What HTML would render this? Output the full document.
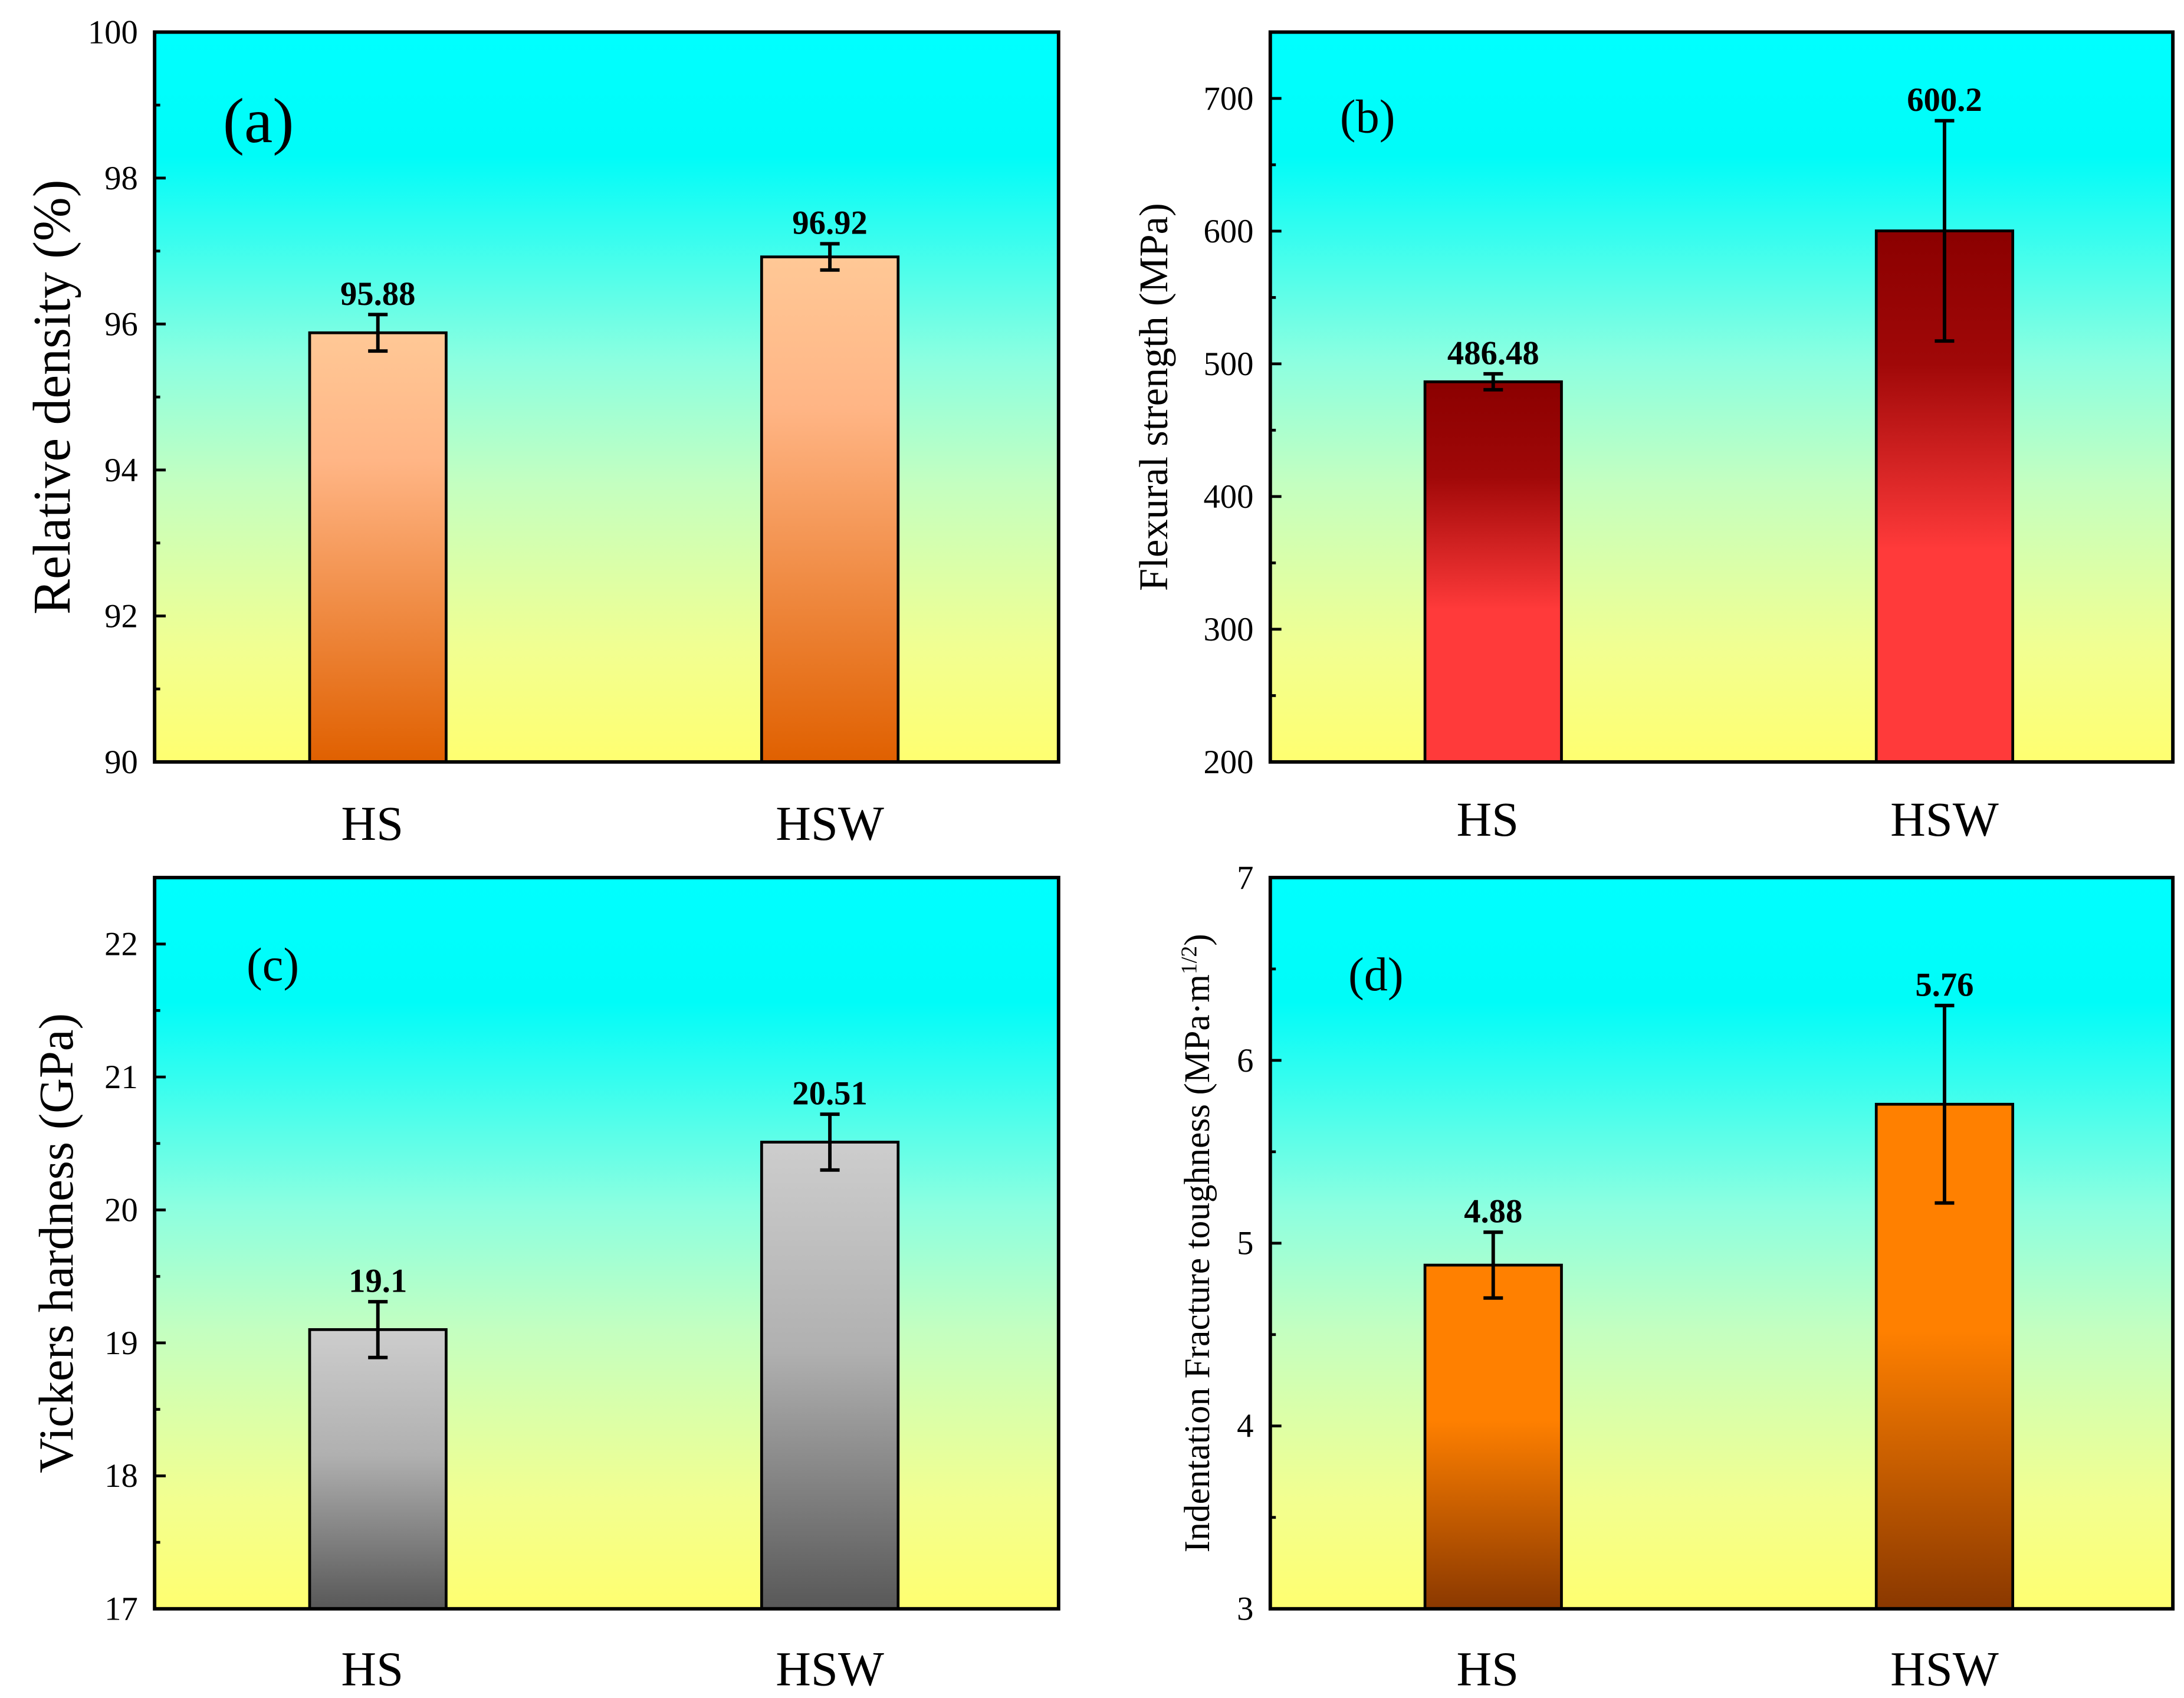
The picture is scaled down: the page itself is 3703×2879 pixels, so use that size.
<!DOCTYPE html>
<html><head><meta charset="utf-8"><style>
html,body{margin:0;padding:0;background:#fff}
svg{display:block}
svg text{font-family:"Liberation Serif","Times New Roman",serif;fill:#000}
</style></head><body>
<svg id="fig" width="3703" height="2879" viewBox="0 0 1568 1219" xmlns="http://www.w3.org/2000/svg" font-family="Liberation Serif, serif">
<defs>
<linearGradient id="bg" x1="0" y1="0" x2="0" y2="1">
<stop offset="0" stop-color="#00ffff"/><stop offset="0.17" stop-color="#00fcf8"/>
<stop offset="0.45" stop-color="#8cffe0"/><stop offset="0.62" stop-color="#c4ffc0"/>
<stop offset="0.85" stop-color="#f2ff90"/><stop offset="1" stop-color="#ffff70"/></linearGradient>
<linearGradient id="ga" x1="0" y1="0" x2="0" y2="1"><stop offset="0" stop-color="#ffc896"/><stop offset="0.3" stop-color="#ffb585"/><stop offset="1" stop-color="#e06000"/></linearGradient>
<linearGradient id="gb" x1="0" y1="0" x2="0" y2="1"><stop offset="0" stop-color="#8b0000"/><stop offset="0.25" stop-color="#a00808"/><stop offset="0.6" stop-color="#ff3a3a"/><stop offset="1" stop-color="#ff3a3a"/></linearGradient>
<linearGradient id="gc" x1="0" y1="0" x2="0" y2="1"><stop offset="0" stop-color="#cdcdcd"/><stop offset="0.45" stop-color="#b0b0b0"/><stop offset="1" stop-color="#585858"/></linearGradient>
<linearGradient id="gd" x1="0" y1="0" x2="0" y2="1"><stop offset="0" stop-color="#ff8000"/><stop offset="0.45" stop-color="#ff8000"/><stop offset="1" stop-color="#8a3800"/></linearGradient>
</defs>
</svg>
<script>
const categories = ["HS","HSW"];
const valuesA = [95.88, 96.92], errA = [0.25, 0.18];
const valuesB = [486.48, 600.2], errB = [6, 83];
const valuesC = [19.1, 20.51], errC = [0.21, 0.21];
const valuesD = [4.88, 5.76], errD = [0.18, 0.54];
const labelsA = ["95.88","96.92"], labelsB = ["486.48","600.2"], labelsC = ["19.1","20.51"], labelsD = ["4.88","5.76"];
const ticksA = [90,92,94,96,98,100], ticksB = [200,300,400,500,600,700], ticksC = [17,18,19,20,21,22], ticksD = [3,4,5,6,7];

const NS = "http://www.w3.org/2000/svg";
const svg = document.getElementById('fig');
function mk(tag, attrs, parent, txt){
  const e = document.createElementNS(NS, tag);
  for (const k in attrs) e.setAttribute(k, attrs[k]);
  if (tag==='text') e.setAttribute('font-family','Liberation Serif, serif');
  if (txt !== undefined) e.textContent = txt;
  (parent||svg).appendChild(e); return e;
}
const panels = [
 {id:'a', x0:111,x1:760,y0:23,y1:547, ymin:90,ymax:100, ticks:ticksA, minor:1, vals:valuesA, errs:errA, labels:labelsA, grad:'ga',
  title:'Relative density (%)', tfs:38, tx:50, letter:'(a)', lx:160, ly:102, lfs:46, catY:603},
 {id:'b', x0:912,x1:1560,y0:23,y1:547, ymin:200,ymax:750, ticks:ticksB, minor:50, vals:valuesB, errs:errB, labels:labelsB, grad:'gb',
  title:'Flexural strength (MPa)', tfs:29, tx:838, letter:'(b)', lx:962, ly:95, lfs:34, catY:600},
 {id:'c', x0:111,x1:760,y0:630,y1:1155, ymin:17,ymax:22.5, ticks:ticksC, minor:0.5, vals:valuesC, errs:errC, labels:labelsC, grad:'gc',
  title:'Vickers hardness (GPa)', tfs:35, tx:52, letter:'(c)', lx:177, ly:704, lfs:34, catY:1210},
 {id:'d', x0:912,x1:1560,y0:630,y1:1155, ymin:3,ymax:7, ticks:ticksD, minor:0.5, vals:valuesD, errs:errD, labels:labelsD, grad:'gd',
  title:'Indentation Fracture toughness (MPa·m', tfs:26, tx:868, letter:'(d)', lx:968, ly:711, lfs:34, catY:1210}
];
panels.forEach(p=>{
  const g = mk('g',{});
  
  
  const sy = v => p.y1 - (v-p.ymin)/(p.ymax-p.ymin)*(p.y1-p.y0);
  const W = p.x1-p.x0;
  const sx = i => p.x0 + W*(i===0?0.247:0.747);
  const bg = mk('rect',{x:p.x0,y:p.y0,width:W,height:p.y1-p.y0,fill:'url(#bg)'},g);
  
  
  for(let v=p.ymin; v<=p.ymax+1e-9; v+=p.minor){
    const isMajor = p.ticks.some(t=>Math.abs(t-v)<1e-9);
    const l = mk('line',{x1:p.x0,x2:p.x0+(isMajor?8:4),y1:sy(v),y2:sy(v),stroke:'#000','stroke-width':2},g);
    
    
  }
  p.ticks.forEach(t=>{
    const tl = mk('text',{x:p.x0-12,y:sy(t)+8,'text-anchor':'end','font-size':24},g,String(t));
    
    
  });
  p.vals.forEach((v,i)=>{
    const cx = sx(i), bw = 98;
    const b = mk('rect',{x:cx-bw/2,y:sy(v),width:bw,height:p.y1-sy(v),fill:'url(#'+p.grad+')',stroke:'#000','stroke-width':2},g);
    
    
    const e = p.errs[i], top = sy(v+e), bot = sy(v-e);
    const eg = mk('path',{d:`M${cx},${top}V${bot}M${cx-7},${top}H${cx+7}M${cx-7},${bot}H${cx+7}`,stroke:'#000','stroke-width':2.5,fill:'none'},g);
    
    
    const vl = mk('text',{x:cx,y:top-7,'text-anchor':'middle','font-size':24,'font-weight':'bold'},g,p.labels[i]);
    
    
    const cl = mk('text',{x:cx-(i===0?4:0),y:p.catY,'text-anchor':'middle','font-size':35},g,categories[i]);
    
    
  });
  const fr = mk('rect',{x:p.x0,y:p.y0,width:W,height:p.y1-p.y0,fill:'none',stroke:'#000','stroke-width':2.5},g);
  
  
  const cy = (p.y0+p.y1)/2;
  const tt = mk('text',{x:p.tx,y:cy,'text-anchor':'middle','font-size':p.tfs,transform:`rotate(-90 ${p.tx} ${cy})`},g,p.title);
  if(p.id==='d'){
    mk('tspan',{dy:-9,'font-size':16},tt,'1/2');
    mk('tspan',{dy:9},tt,')');
  }
  
  
  const lt = mk('text',{x:p.lx,y:p.ly,'font-size':p.lfs},g,p.letter);
  
  
});
</script>
</body></html>
